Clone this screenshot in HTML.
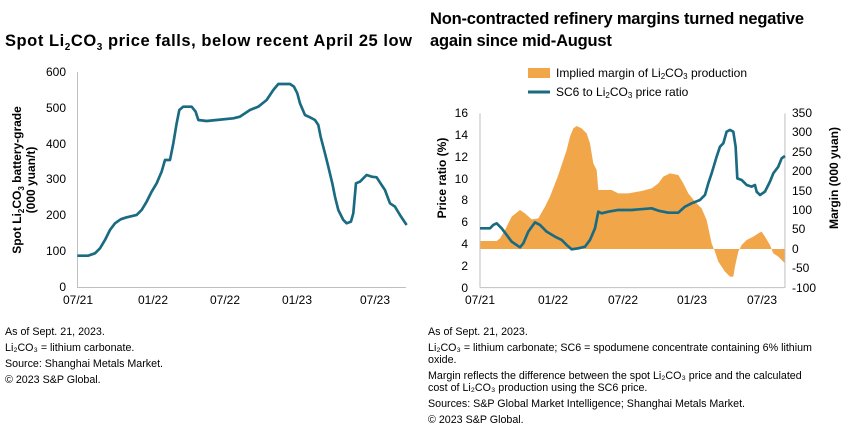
<!DOCTYPE html>
<html><head><meta charset="utf-8"><style>
body{margin:0;width:850px;height:437px;background:#fff;font-family:"Liberation Sans",sans-serif;color:#000;position:relative;overflow:hidden}
.t{position:absolute;font-weight:bold;font-size:16.5px;line-height:22px;letter-spacing:-0.2px;white-space:nowrap}
.f{position:absolute;font-size:10.7px;white-space:nowrap}
svg{position:absolute;left:0;top:0}
svg text{font-family:"Liberation Sans",sans-serif;font-size:12px;fill:#000}
</style></head><body>
<div class="t" style="left:5px;top:30px;letter-spacing:0.55px">Spot Li<span style="font-size:10px;position:relative;top:4px">2</span>CO<span style="font-size:10px;position:relative;top:4px">3</span> price falls, below recent April 25 low</div>
<div class="t" style="left:430px;top:8px">Non-contracted refinery margins turned negative<br>again since mid-August</div>
<svg width="850" height="437">
<g stroke="#bfbfbf" stroke-width="1"><line x1="77.5" y1="72" x2="77.5" y2="287"/><line x1="77" y1="287.5" x2="406" y2="287.5"/></g>
<g text-anchor="end">
<text x="66" y="76">600</text><text x="66" y="112">500</text><text x="66" y="148">400</text><text x="66" y="183">300</text><text x="66" y="219">200</text><text x="66" y="255">100</text><text x="66" y="291">0</text></g>
<g text-anchor="middle"><text x="78" y="304">07/21</text><text x="153" y="304">01/22</text><text x="225" y="304">07/22</text><text x="297" y="304">01/23</text><text x="375" y="304">07/23</text></g>
<text transform="translate(21,180) rotate(-90)" text-anchor="middle" font-weight="bold" style="font-size:12px">Spot Li<tspan font-size="8" dy="3">2</tspan><tspan dy="-3">CO</tspan><tspan font-size="8" dy="3">3</tspan><tspan dy="-3"> battery-grade</tspan></text>
<text transform="translate(35,180) rotate(-90)" text-anchor="middle" font-weight="bold">(000 yuan/t)</text>
<g transform="translate(0,60) scale(0.3333)"><polyline fill="none" stroke="#1a6b82" stroke-width="8" stroke-linejoin="round" points="232,587 265,587 285,580 300,565 315,540 330,510 345,490 362,478 380,472 410,465 425,450 440,425 455,395 470,370 485,335 495,300 510,300 520,250 530,190 538,150 550,140 575,140 587,155 595,180 620,183 650,180 700,175 720,170 750,150 775,140 800,120 820,90 835,72 870,72 882,80 892,100 900,130 915,165 930,172 945,180 955,195 962,230 975,280 985,320 997,370 1005,410 1015,450 1030,480 1040,490 1053,485 1060,460 1068,370 1080,365 1090,355 1100,345 1115,350 1130,352 1145,375 1155,390 1170,430 1185,440 1200,465 1220,495"/></g>
<g transform="translate(425,60) scale(0.3333)">
<polygon fill="#f1a64a" points="165,567 165,543 215,543 225,535 240,510 260,470 285,450 300,460 320,478 340,475 360,440 375,410 400,345 415,300 425,270 435,230 445,205 455,198 470,205 485,220 495,250 505,310 515,330 520,390 530,390 560,390 580,400 610,400 650,393 680,385 700,370 715,350 735,340 760,345 775,370 790,400 810,425 830,445 845,480 860,550 870,575 880,605 900,635 915,650 925,650 930,620 940,575 950,555 965,540 985,530 1000,520 1010,515 1020,530 1035,555 1045,580 1060,590 1075,605 1080,610 1080,567"/>
<line x1="165" y1="160" x2="165" y2="683" stroke="#bfbfbf" stroke-width="3"/>
<line x1="1080" y1="160" x2="1080" y2="683" stroke="#bfbfbf" stroke-width="3"/>
<line x1="165" y1="683" x2="1080" y2="683" stroke="#bfbfbf" stroke-width="3"/>
<polyline fill="none" stroke="#1a6b82" stroke-width="8" stroke-linejoin="round" points="165,505 195,505 205,495 215,490 230,505 245,525 260,545 285,562 295,550 310,515 330,487 345,495 365,515 390,530 410,540 425,555 440,568 460,565 480,560 495,540 510,505 520,455 530,460 550,455 580,450 620,450 680,445 700,452 730,458 760,458 780,440 800,430 825,420 840,405 850,370 860,340 875,290 885,260 895,250 905,215 915,210 925,215 932,260 937,355 950,360 965,375 980,380 990,375 995,395 1005,405 1020,395 1035,365 1045,340 1060,320 1070,295 1080,288"/>
</g>
<rect x="528" y="68" width="22" height="10" fill="#f1a64a"/>
<line x1="528" y1="92" x2="550" y2="92" stroke="#1a6b82" stroke-width="3"/>
<text x="556" y="77">Implied margin of Li<tspan font-size="8" dy="2">2</tspan><tspan dy="-2">CO</tspan><tspan font-size="8" dy="2">3</tspan><tspan dy="-2"> production</tspan></text>
<text x="556" y="96">SC6 to Li<tspan font-size="8" dy="2">2</tspan><tspan dy="-2">CO</tspan><tspan font-size="8" dy="2">3</tspan><tspan dy="-2"> price ratio</tspan></text>
<g text-anchor="end"><text x="468" y="117">16</text><text x="468" y="139">14</text><text x="468" y="161">12</text><text x="468" y="183">10</text><text x="468" y="204">8</text><text x="468" y="226">6</text><text x="468" y="248">4</text><text x="468" y="270">2</text><text x="468" y="292">0</text></g>
<g text-anchor="start"><text x="792" y="117">350</text><text x="792" y="136">300</text><text x="792" y="156">250</text><text x="792" y="175">200</text><text x="792" y="195">150</text><text x="792" y="214">100</text><text x="792" y="233">50</text><text x="792" y="253">0</text><text x="792" y="272">-50</text><text x="792" y="292">-100</text></g>
<g text-anchor="middle"><text x="480" y="304">07/21</text><text x="553" y="304">01/22</text><text x="623" y="304">07/22</text><text x="692" y="304">01/23</text><text x="762" y="304">07/23</text></g>
<text transform="translate(446,178) rotate(-90)" text-anchor="middle" font-weight="bold">Price ratio (%)</text>
<text transform="translate(838,178) rotate(-90)" text-anchor="middle" font-weight="bold">Margin (000 yuan)</text>
</svg>
<div class="f" style="left:5px;top:326px">As of Sept. 21, 2023.</div>
<div class="f" style="left:5px;top:342px">Li₂CO₃ = lithium carbonate.</div>
<div class="f" style="left:5px;top:358px">Source: Shanghai Metals Market.</div>
<div class="f" style="left:5px;top:374px">© 2023 S&amp;P Global.</div>
<div class="f" style="left:428px;top:326px">As of Sept. 21, 2023.</div>
<div class="f" style="left:428px;top:342px">Li₂CO₃ = lithium carbonate; SC6 = spodumene concentrate containing 6% lithium</div>
<div class="f" style="left:428px;top:354px">oxide.</div>
<div class="f" style="left:428px;top:370px">Margin reflects the difference between the spot Li₂CO₃ price and the calculated</div>
<div class="f" style="left:428px;top:382px">cost of Li₂CO₃ production using the SC6 price.</div>
<div class="f" style="left:428px;top:398px">Sources: S&amp;P Global Market Intelligence; Shanghai Metals Market.</div>
<div class="f" style="left:428px;top:414px">© 2023 S&amp;P Global.</div>
</body></html>
